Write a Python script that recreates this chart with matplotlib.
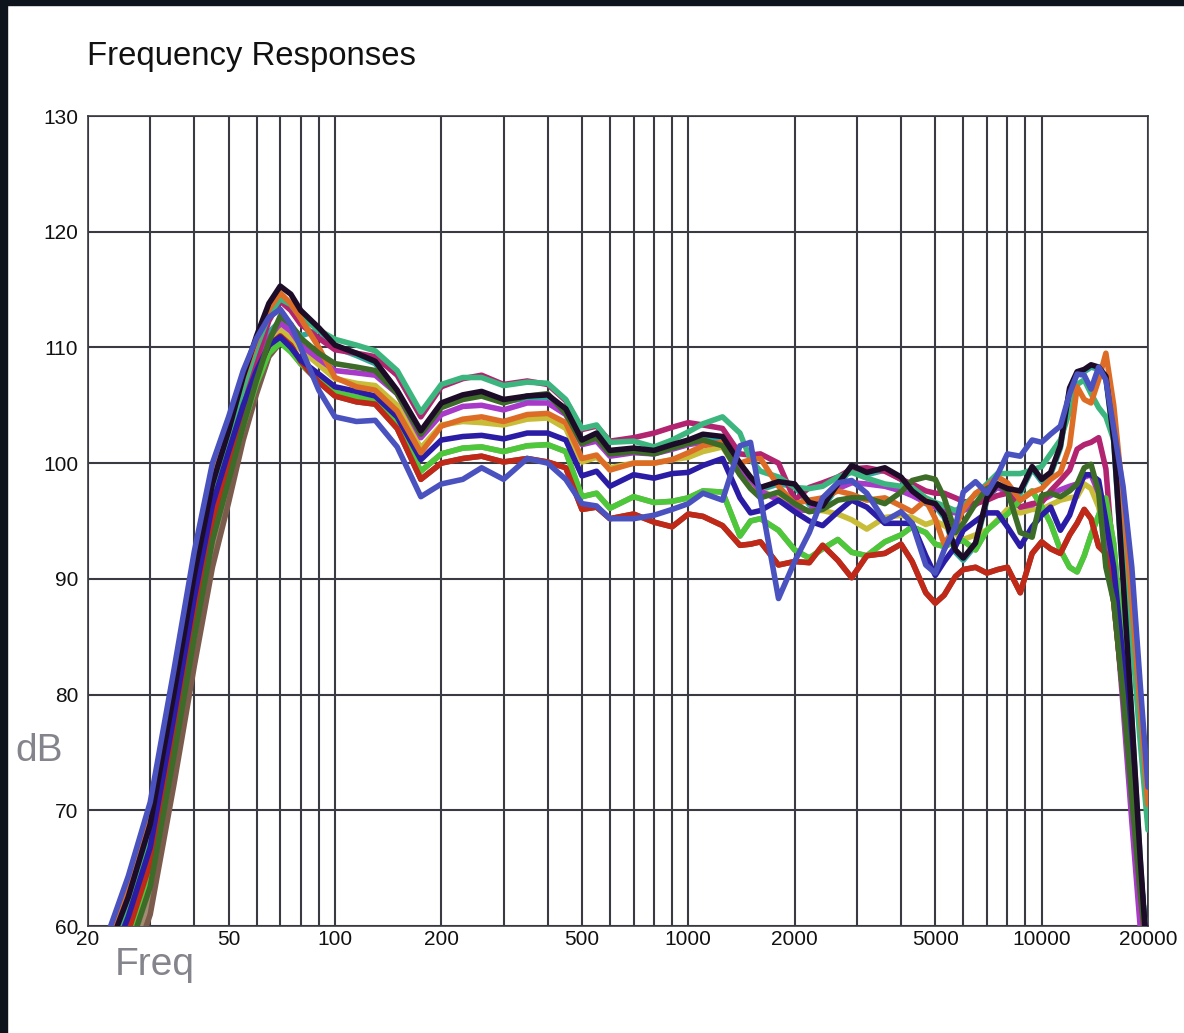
import matplotlib
matplotlib.use('Agg')
import matplotlib.pyplot as plt
from matplotlib.patches import Rectangle

plt.rcParams['font.family'] = ['Liberation Sans', 'DejaVu Sans']

# frequency grid shared by every measured curve (Hz)
freqs = [20, 23, 26, 30, 35, 40, 45, 50, 55, 60,
         65, 70, 75, 80, 90, 100, 115, 130, 150, 175,
         200, 230, 260, 300, 350, 400, 450, 500, 550, 600,
         700, 800, 900, 1000, 1100, 1250, 1400, 1500, 1600, 1800,
         2000, 2200, 2400, 2650, 2900, 3200, 3600, 4000, 4300, 4700,
         5000, 5300, 5700, 6000, 6500, 7000, 7500, 8000, 8700, 9400,
         10000, 10600, 11300, 12000, 12600, 13200, 13800, 14500, 15200, 16000,
         17000, 18000, 19000, 20000]

tan = [48.7, 52.8, 56.4, 62.0, 73.2, 83.5, 91.9, 97.3, 102.6, 106.4,
       109.3, 110.6, 109.7, 108.6, 107.3, 106.1, 105.7, 105.4, 103.4, 99.3,
       100.8, 101.3, 101.4, 101.0, 101.5, 101.6, 101.0, 97.1, 97.4, 96.1,
       97.1, 96.6, 96.7, 97.0, 97.6, 97.5, 93.7, 95.0, 95.2, 94.2,
       92.5, 91.8, 92.6, 93.4, 92.3, 92.0, 93.2, 93.8, 94.5, 94.0,
       93.0, 92.8, 93.2, 93.3, 92.5, 94.2, 95.0, 95.6, 96.8, 97.6,
       96.3, 94.8, 92.5, 91.0, 90.6, 92.0, 93.8, 95.5, 97.0, 93.0,
       84.0, 74.0, 65.0, 57.0]

brown = [48.0, 52.0, 55.5, 61.0, 72.2, 82.5, 91.0, 96.6, 102.0, 106.0,
         109.2, 110.4, 109.8, 108.6, 107.0, 105.8, 105.3, 105.1, 103.0, 98.6,
         100.0, 100.4, 100.6, 100.1, 100.4, 100.1, 99.6, 96.0, 96.2, 95.2,
         95.6, 94.9, 94.5, 95.6, 95.4, 94.6, 92.9, 93.0, 93.2, 91.2,
         91.5, 91.4, 92.9, 91.6, 90.1, 92.0, 92.2, 93.0, 91.5, 88.8,
         87.9, 88.6, 90.2, 90.8, 91.0, 90.5, 90.8, 91.0, 88.8, 92.2,
         93.2, 92.6, 92.2, 93.8, 94.8, 96.0, 95.2, 92.8, 92.2, 88.0,
         80.0, 72.0, 64.0, 57.0]

teal = [52.5, 57.0, 61.2, 67.3, 78.6, 88.9, 96.8, 101.4, 105.8, 109.0,
        111.3, 112.3, 111.8, 111.0, 111.5, 110.0, 109.3, 108.6, 106.1, 102.6,
        105.0, 105.7, 106.0, 105.3, 105.6, 105.7, 104.5, 101.8, 102.4, 100.9,
        101.1, 100.9, 101.4, 101.8, 102.3, 102.1, 99.8, 98.6, 97.7, 98.2,
        98.0, 96.4, 96.1, 98.0, 99.6, 99.0, 99.4, 98.6, 97.4, 96.5,
        96.3, 95.3, 92.3, 91.6, 92.9, 96.8, 98.0, 97.6, 97.4, 99.5,
        98.4, 99.0, 101.3, 106.3, 107.7, 107.9, 108.3, 108.1, 107.3, 101.8,
        89.8, 77.8, 65.8, 55.8]

yellow = [50.8, 55.1, 59.0, 64.9, 76.2, 86.5, 94.6, 99.6, 104.0, 107.5,
          110.2, 111.5, 110.8, 109.8, 108.5, 107.3, 106.9, 106.7, 105.0, 101.3,
          103.3, 103.6, 103.5, 103.3, 103.8, 103.9, 103.0, 100.1, 100.5, 99.6,
          100.0, 100.0, 100.3, 100.5, 101.0, 101.4, 99.0, 98.3, 97.6, 97.0,
          96.0, 95.9, 95.9, 95.6, 95.1, 94.3, 95.3, 95.5, 95.3, 94.7,
          95.0, 94.6, 93.9, 93.4, 93.8, 94.2, 95.1, 96.0, 95.7, 96.0,
          96.0, 96.4, 96.8, 97.0, 97.1, 98.2, 97.8, 96.2, 93.2, 88.0,
          80.0, 71.0, 63.0, 57.0]

violet = [51.5, 55.8, 59.9, 65.8, 77.1, 87.4, 95.5, 100.3, 104.8, 108.2,
          110.8, 112.1, 111.4, 110.2, 109.0, 108.0, 107.8, 107.6, 106.0, 102.2,
          104.2, 104.9, 105.0, 104.6, 105.2, 105.2, 104.2, 101.6, 101.9, 100.6,
          100.9, 100.8, 101.2, 101.6, 101.8, 101.7, 99.5, 98.6, 97.6, 96.8,
          96.0, 95.9, 96.8, 97.8, 98.3, 98.2, 98.0, 97.6, 97.2, 96.6,
          96.2, 95.9, 95.7, 95.9, 96.4, 97.2, 97.9, 97.5, 96.2, 96.4,
          96.8, 97.2, 97.7, 98.0, 98.2, 98.8, 99.0, 97.4, 95.2, 89.0,
          79.0, 69.0, 60.0, 55.0]

magenta = [51.8, 56.2, 60.3, 66.3, 77.6, 87.9, 96.0, 100.7, 105.5, 109.0,
           112.3, 114.0, 113.2, 112.0, 110.8, 109.8, 109.5, 109.2, 107.6, 104.0,
           106.6, 107.3, 107.6, 106.8, 107.1, 106.8, 105.4, 102.9, 103.2, 101.9,
           102.2, 102.6, 103.1, 103.5, 103.3, 103.0, 100.8, 100.7, 100.8, 100.0,
           96.8, 97.9, 98.3, 98.8, 99.5, 99.6, 99.3, 98.6, 98.2, 97.6,
           97.4, 97.4, 97.0, 96.7, 96.5, 96.8, 97.2, 97.4, 96.2, 96.5,
           96.6, 97.6, 98.5, 99.4, 101.2, 101.6, 101.8, 102.2, 99.5, 91.0,
           82.0, 72.0, 63.0, 56.0]

seagreen = [53.0, 57.4, 61.7, 67.8, 79.1, 89.4, 97.3, 101.8, 106.5, 110.0,
            112.8, 114.2, 113.7, 112.6, 111.5, 110.7, 110.2, 109.7, 108.0, 104.4,
            106.8, 107.4, 107.4, 106.7, 107.0, 106.9, 105.5, 103.0, 103.3, 101.8,
            101.9, 101.4, 102.0, 102.7, 103.4, 104.0, 102.6, 100.3, 99.3, 98.8,
            97.9, 97.8, 98.0, 98.8, 99.2, 98.7, 98.2, 98.0, 97.9, 97.0,
            96.6, 96.3, 95.9, 96.3, 97.3, 98.2, 99.1, 99.1, 99.1, 99.4,
            99.7, 100.8, 102.0, 104.5, 106.8, 107.2, 106.0, 104.8, 104.0, 102.0,
            94.8, 85.0, 76.0, 68.3]

lime = [50.1, 54.3, 58.1, 63.9, 75.2, 85.5, 93.7, 98.8, 103.2, 106.9,
        109.5, 110.4, 109.6, 108.6, 107.3, 106.1, 105.7, 105.4, 103.4, 99.3,
        100.8, 101.3, 101.4, 101.0, 101.5, 101.6, 101.0, 97.1, 97.4, 96.1,
        97.1, 96.6, 96.7, 97.0, 97.6, 97.5, 93.7, 95.0, 95.2, 94.2,
        92.5, 91.8, 92.6, 93.4, 92.3, 92.0, 93.2, 93.8, 94.5, 94.0,
        93.0, 92.8, 93.2, 93.3, 92.5, 94.2, 95.0, 95.6, 96.8, 97.6,
        96.3, 94.8, 92.5, 91.0, 90.6, 92.0, 93.8, 95.5, 97.0, 93.0,
        84.0, 74.0, 65.0, 57.0]

red = [51.1, 55.5, 59.5, 65.4, 76.7, 87.0, 95.0, 100.0, 104.2, 107.8,
       110.2, 111.0, 110.2, 108.8, 107.0, 105.8, 105.3, 105.1, 103.0, 98.6,
       100.0, 100.4, 100.6, 100.1, 100.4, 100.1, 99.6, 96.0, 96.2, 95.2,
       95.6, 94.9, 94.5, 95.6, 95.4, 94.6, 92.9, 93.0, 93.2, 91.2,
       91.5, 91.4, 92.9, 91.6, 90.1, 92.0, 92.2, 93.0, 91.5, 88.8,
       87.9, 88.6, 90.2, 90.8, 91.0, 90.5, 90.8, 91.0, 88.8, 92.2,
       93.2, 92.6, 92.2, 93.8, 94.8, 96.0, 95.2, 92.8, 92.2, 88.0,
       80.0, 72.0, 64.0, 57.0]

navy = [52.2, 56.6, 60.8, 66.8, 78.1, 88.4, 96.4, 101.0, 105.0, 108.0,
        110.2, 110.9, 110.0, 108.9, 107.7, 106.6, 106.2, 105.8, 104.0, 100.3,
        102.0, 102.3, 102.4, 102.1, 102.6, 102.6, 102.0, 98.9, 99.3, 98.0,
        99.0, 98.7, 99.1, 99.2, 99.8, 100.4, 97.0, 95.7, 95.9, 96.8,
        95.8, 95.0, 94.6, 95.8, 96.8, 96.2, 94.8, 94.8, 94.8, 92.0,
        90.3, 91.5, 92.8, 94.2, 95.0, 95.7, 95.7, 94.5, 92.8, 94.5,
        95.5, 96.2, 94.2, 95.5, 97.4, 99.0, 99.0, 98.5, 95.0, 91.0,
        83.0, 74.0, 65.0, 57.0]

orange = [54.2, 58.8, 63.2, 69.5, 80.9, 91.2, 98.9, 103.2, 107.4, 110.6,
          113.3, 114.7, 113.8, 112.5, 110.0, 107.4, 106.6, 106.3, 104.5, 100.9,
          103.2, 103.8, 104.0, 103.6, 104.2, 104.3, 103.5, 100.4, 100.7, 99.4,
          100.0, 100.0, 100.3, 100.9, 101.5, 101.8, 100.0, 100.3, 100.4, 98.0,
          96.5, 96.8, 97.0, 97.6, 97.3, 96.8, 97.0, 96.3, 95.8, 96.8,
          95.2, 93.0, 94.5, 96.0, 97.4, 98.0, 98.8, 98.3, 96.8, 97.5,
          97.8, 98.6, 99.2, 101.5, 106.6, 105.5, 105.2, 107.2, 109.5, 105.0,
          97.0, 88.0, 79.0, 70.5]

darkgreen = [49.8, 54.0, 57.7, 63.4, 74.7, 85.0, 93.3, 98.5, 103.2, 107.2,
             110.5, 112.7, 112.0, 110.8, 109.5, 108.6, 108.3, 108.0, 106.0, 102.5,
             104.8, 105.5, 105.8, 105.2, 105.8, 106.0, 104.3, 101.7, 102.2, 100.8,
             101.0, 100.8, 101.3, 101.7, 102.0, 101.5, 99.0, 97.8, 97.0, 97.5,
             96.5, 95.8, 96.0, 96.8, 97.0, 97.0, 96.5, 97.5, 98.5, 98.8,
             98.6, 97.0, 94.0, 94.8, 96.5, 97.8, 98.2, 97.6, 94.0, 93.6,
             97.2, 97.4, 97.1, 97.6, 98.2, 99.6, 99.9, 97.5, 91.0, 88.0,
             80.0, 71.0, 63.0, 57.0]

black = [53.6, 58.2, 62.5, 68.8, 80.1, 90.4, 98.2, 102.8, 107.5, 111.0,
         113.8, 115.3, 114.6, 113.2, 111.7, 110.2, 109.5, 108.8, 106.3, 102.8,
         105.2, 105.9, 106.2, 105.5, 105.8, 105.9, 104.7, 102.0, 102.6, 101.1,
         101.3, 101.1, 101.6, 102.0, 102.5, 102.3, 100.0, 98.8, 97.9, 98.4,
         98.2, 96.6, 96.3, 98.2, 99.8, 99.2, 99.6, 98.8, 97.6, 96.7,
         96.5, 95.5, 92.5, 91.8, 93.1, 97.0, 98.2, 97.8, 97.6, 99.7,
         98.6, 99.2, 101.5, 106.5, 107.9, 108.1, 108.5, 108.3, 107.5, 102.0,
         90.0, 78.0, 66.0, 56.0]

slate = [55.0, 59.7, 64.3, 70.7, 82.1, 92.4, 100.0, 104.0, 108.0, 110.8,
         112.6, 113.3, 112.0, 110.0, 106.3, 104.0, 103.6, 103.7, 101.4, 97.1,
         98.2, 98.6, 99.6, 98.6, 100.4, 100.0, 98.6, 96.5, 96.3, 95.2,
         95.2, 95.5, 96.0, 96.5, 97.4, 96.8, 101.5, 101.8, 97.0, 88.3,
         91.5, 94.0, 97.0, 98.3, 98.5, 97.4, 95.0, 95.8, 94.8, 91.2,
         90.5, 92.5, 94.5, 97.5, 98.4, 97.4, 99.0, 100.8, 100.6, 102.0,
         101.8, 102.5, 103.2, 106.0, 107.7, 107.6, 106.4, 108.3, 107.2, 103.0,
         98.0, 91.0, 81.0, 72.0]

# bottom to top drawing order
curves = [
    (tan, '#a48c74'),
    (brown, '#7b5b4b'),
    (teal, '#33a89a'),
    (yellow, '#c8bc38'),
    (violet, '#a83ac8'),
    (magenta, '#b22470'),
    (seagreen, '#3cb67e'),
    (lime, '#4dc83a'),
    (red, '#c02818'),
    (navy, '#2b1ca6'),
    (orange, '#dd6d26'),
    (darkgreen, '#3d6b28'),
    (black, '#1c0c28'),
    (slate, '#4a52c0'),
]

major_x = [20, 50, 100, 200, 500, 1000, 2000, 5000, 10000, 20000]
minor_x = [30, 40, 60, 70, 80, 90, 300, 400, 600, 700, 800, 900,
           3000, 4000, 6000, 7000, 8000, 9000]
y_ticks = [60, 70, 80, 90, 100, 110, 120, 130]

fig = plt.figure(figsize=(11.84, 10.33), dpi=100)
ax = fig.add_axes([88 / 1184, 1 - 926 / 1033, 1060 / 1184, 810 / 1033])

for vals, color in curves:
    ax.plot(freqs, vals, color=color, lw=4.0,
            solid_joinstyle='round', solid_capstyle='round', zorder=3)

ax.set_xscale('log')
ax.set_xlim(20, 20000)
ax.set_ylim(60, 130)
ax.set_xticks(major_x)
ax.set_xticklabels([str(v) for v in major_x])
ax.set_xticks(minor_x, minor=True)
ax.set_xticklabels([], minor=True)
ax.set_yticks(y_ticks)
ax.set_yticklabels([str(v) for v in y_ticks])

grid_col = '#3a3a42'
ax.grid(True, which='both', axis='x', color=grid_col, lw=1.5, zorder=1)
ax.grid(True, which='major', axis='y', color=grid_col, lw=1.5, zorder=1)
ax.set_axisbelow(True)
for s in ax.spines.values():
    s.set_color(grid_col)
    s.set_linewidth(1.2)

ax.tick_params(axis='both', which='both', length=0, labelsize=15, colors='#111111')
ax.tick_params(axis='y', pad=7)
ax.tick_params(axis='x', pad=3)

fig.text(87 / 1184, 1 - 65 / 1033, 'Frequency Responses', fontsize=23.7,
         ha='left', va='baseline', color='#111111')
fig.text(15 / 1184, 1 - 761 / 1033, 'dB', fontsize=28,
         ha='left', va='baseline', color='#84848c')
fig.text(115 / 1184, 1 - 975 / 1033, 'Freq', fontsize=28,
         ha='left', va='baseline', color='#84848c')

# dark frame strip on top and left edges
fig.patches.append(Rectangle((0, 1 - 5 / 1033), 1, 5 / 1033,
                             transform=fig.transFigure, color='#0e141b', zorder=10))
fig.patches.append(Rectangle((0, 0), 7 / 1184, 1,
                             transform=fig.transFigure, color='#0e141b', zorder=10))

fig.savefig('out.png', dpi=100)
